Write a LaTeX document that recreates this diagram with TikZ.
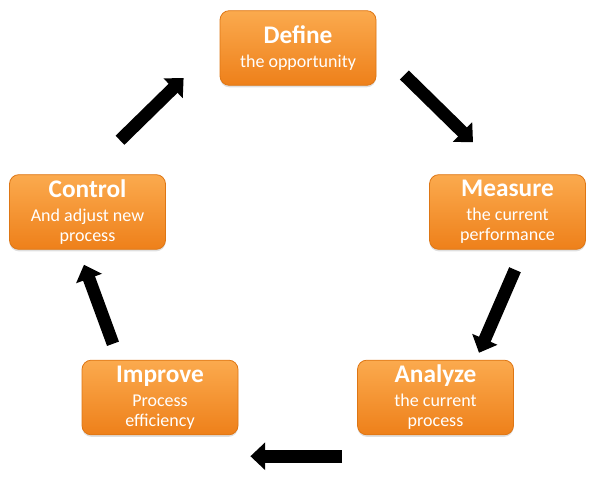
\documentclass[tikz,border=0pt]{standalone}
\usepackage{fontspec}
\setmainfont{Carlito}
\usetikzlibrary{positioning,arrows.meta,calc,shadows}

\definecolor{boxtop}{RGB}{251,170,78}
\definecolor{boxbottom}{RGB}{238,128,26}
\definecolor{boxline}{RGB}{222,118,20}

\begin{document}
\begin{tikzpicture}[
    x=0.75pt,y=-0.75pt,
    box/.style={rectangle,rounded corners=7pt,draw=boxline,line width=0.6pt,
        top color=boxtop,bottom color=boxbottom,text=white,align=center,
        minimum width=117pt,minimum height=56pt,inner sep=2pt,
        font=\fontsize{13.5}{15}\selectfont,
        drop shadow={opacity=0.25,shadow xshift=0pt,shadow yshift=-1.5pt}},
    arrow/.style={line width=9.5pt,-{Triangle[length=11pt,width=20pt]}}
]

\useasboundingbox (0,0) rectangle (599,481);

% Stages of the cycle
\node[box] (define)  at (298,48)      {{\bfseries\fontsize{19}{21}\selectfont Define}\\[3pt] the opportunity};
\node[box] (measure) at (507.5,212)   {{\bfseries\fontsize{19}{21}\selectfont Measure}\\[3pt] the current\\ performance};
\node[box] (analyze) at (435.5,397.5) {{\bfseries\fontsize{19}{21}\selectfont Analyze}\\[3pt] the current\\ process};
\node[box] (improve) at (160,397.5)   {{\bfseries\fontsize{19}{21}\selectfont Improve}\\[3pt] Process\\ efficiency};
\node[box] (control) at (87.5,212)    {{\bfseries\fontsize{19}{21}\selectfont Control}\\[3pt] And adjust new\\ process};

% Arrows between stages
\draw[arrow] ($(define.east)+(28,27)$) -- ($(measure.north)+(-34.5,-32)$);
\draw[arrow] ($(measure.south)+(7.5,20)$) -- ($(analyze.north)+(43.5,-7)$);
\draw[arrow] ($(analyze.south west)+(-15,21)$) -- ($(improve.south east)+(12,21)$);
\draw[arrow] ($(improve.north)+(-47,-16)$) -- ($(control.south)+(-3.5,15)$);
\draw[arrow] ($(control.north)+(32.5,-34)$) -- ($(define.west)+(-36,30)$);

\end{tikzpicture}
\end{document}
